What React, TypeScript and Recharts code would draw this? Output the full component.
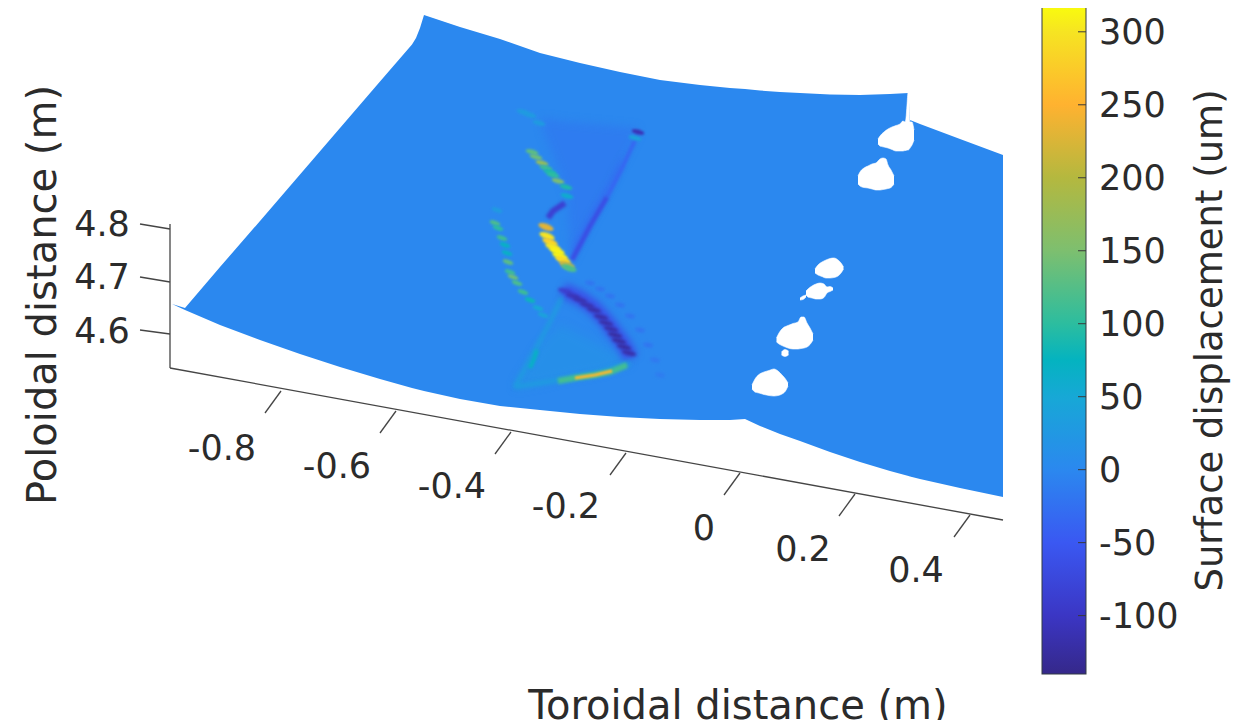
import React from 'react';
import { ComposedChart, BarChart, Bar, Area, Line, Scatter, XAxis, YAxis, Label } from 'recharts';

const FONT = '"DejaVu Sans", sans-serif';
const INK = '#2b2b2b';

// colour scale of the bar: displacement (um) -> colour
const scaleValues = [-140, -100, -50, 0, 50, 75, 100, 150, 200, 250, 300, 317];
const scaleColors = ['#35288a', '#3b36c4', '#3a58f2', '#2b88ef', '#17a8d6', '#04b3c0', '#2cbd9f', '#7dbf6f', '#b4b83f', '#ffb230', '#f6e422', '#f9fb0e'];
const colourTicks = [-100, -50, 0, 50, 100, 150, 200, 250, 300];
const colourRange = [{ name: 'scale', range: [-140, 317] }];

function hex(c: string) { return [1, 3, 5].map((i) => parseInt(c.slice(i, i + 2), 16)); }
function parula(v: number) {
  for (let i = 1; i < scaleValues.length; i++) {
    if (v <= scaleValues[i]) {
      const t = Math.max(0, (v - scaleValues[i - 1]) / (scaleValues[i] - scaleValues[i - 1]));
      const a = hex(scaleColors[i - 1]); const b = hex(scaleColors[i]);
      return `rgb(${a.map((q, k) => Math.round(q + (b[k] - q) * t)).join(',')})`;
    }
  }
  return scaleColors[scaleColors.length - 1];
}

// surface outline in the projected plane: [x, far edge, near edge]
const surfaceEdge = [
  [172, 304, 304], [185, 308, 310], [220, 267, 325], [260, 221, 340], [300, 174.5, 354], [340, 128, 367],
  [380, 81.6, 379], [412, 44.5, 388], [416, 38, 389], [420, 28, 390], [424, 15, 391], [460, 27, 399], [500, 39, 406],
  [540, 53, 410], [580, 63, 414], [620, 72, 417], [660, 80, 419], [700, 85, 420], [730, 88, 420], [745, 89, 419],
  [760, 90.5, 426], [780, 92, 434], [800, 93, 441], [830, 94.5, 452], [860, 95, 462], [890, 94, 471], [908.5, 93, 476],
  [910, 120, 476.5], [920, 124, 479], [960, 139, 488], [1003, 155, 497],
];

// holes in the surface (tile gaps)
const holeA = [[878, 139, 144], [880, 136, 146], [884, 132, 147], [888, 129, 148], [892, 127, 149.5], [896, 125.5, 151], [900, 124, 151], [903, 121, 151], [905, 122, 150.5], [906, 118, 150.5], [907, 105, 150], [908, 93, 150], [909, 93, 149.5], [910, 122, 148], [912, 122, 145], [914, 130, 140]];
const holeB = [[858, 176, 184], [860, 172, 186], [864, 168, 187.5], [868, 166, 188], [872, 164, 189], [876, 163, 190], [880, 159, 190], [883, 158, 189.5], [886, 159, 189], [888, 165, 188.5], [891, 170, 187.5], [894, 176, 184]];
const holeC = [[815, 269, 273], [818, 265, 275], [822, 262, 276.5], [826, 260, 278], [830, 258.5, 278], [834, 258, 277.5], [838, 260, 276], [841, 263, 273], [843.5, 267, 269]];
const holeD = [[806, 291, 295], [808, 289, 297], [812, 286, 298], [816, 284, 299], [820, 283, 299], [824, 284, 297.5], [827, 287, 293], [830, 286.5, 291.5], [833, 288, 290]];
const holeE = [[800, 298, 300], [803, 296, 299.5], [806, 295, 297]];
const holeF = [[776.5, 338, 342], [779, 333, 344], [783, 328, 346], [788, 325.5, 348], [793, 323.5, 349], [798, 322, 349], [801, 317, 348.5], [804, 317, 348], [807, 323, 347], [810, 328, 344.5], [813, 334, 340]];
const holeG = [[781.5, 352, 355], [785, 349.5, 356.5], [788.5, 351, 355]];
const holeH = [[752, 385, 389], [755, 379, 392], [759, 374.5, 393], [764, 372, 394.5], [769, 370.5, 395.5], [774, 369, 396], [778, 371, 395.5], [782, 375, 394], [785.5, 379, 391], [788, 383, 386]];

// displaced zones
const fanUpper = [[543, 118, 130], [555, 120, 160], [567, 122, 195], [571, 122, 262], [637, 128, 135]];
const fanLower = [[515, 386, 388], [540, 345, 384], [560, 325, 379], [600, 345, 372], [630, 362, 364]];
const wedgeStreak = [[572, 246, 260], [590, 212, 226], [607, 183, 197], [622, 154, 168]];
const streakMain = [[572, 260], [590, 226], [607, 197]];
const streakFaint = [[607, 197], [622, 168], [636, 138]];
const streakKink = [[548, 218], [553, 211], [565, 203]];
const ridgeLower = [[563, 290], [580, 298], [594, 308], [606, 321], [615, 333], [624, 345], [631, 358]];
const edgeLeft = [[515, 387], [535, 350], [550, 322], [562, 297]];
const edgeBase = [[515, 387], [560, 380], [600, 372], [630, 363]];
const innerTeal = [[530, 368], [534, 359], [537, 350]];
const glowOuter = [[558, 381], [580, 377], [595, 375], [610, 372], [627, 365]];
const glowInner = [[575, 378], [595, 375], [612, 371]];

// spots: [x, y, displacement]
const spotsTop = [[523, 112, 30], [530, 115, 30], [539, 123, 30], [532, 152, 130], [536, 157, 140], [542, 163, 170], [546, 168, 110], [550, 172, 90], [553, 175, 100], [558, 181, 150], [566, 187, 90], [567, 196, 60], [635, 138, 40], [638, 132, -110]];
const spotsBright = [[546, 227, 230], [547, 236, 300], [550, 242, 280], [553, 247, 300], [557, 251, 310], [560, 256, 310], [563, 260, 290], [567, 265, 220], [569, 268, 120]];
const spotsLeft = [[497, 210, 30], [495, 223, 120], [498, 228, 100], [502, 238, 110], [505, 245, 70], [507, 253, 70], [508, 262, 130], [510, 272, 110], [513, 277, 140], [517, 283, 120], [523, 292, 110], [530, 300, 80], [538, 308, 50], [543, 315, 40]];
const spotsDark = [[565, 291, -90], [573, 296, -110], [580, 300, -115], [587, 305, -115], [594, 310, -120], [601, 317, -120], [606, 323, -120], [611, 329, -120], [615, 335, -125], [619, 341, -125], [624, 347, -125], [629, 353, -120]];
const spotsFaint = [[590, 283, -20], [600, 289, -20], [610, 296, -20], [620, 305, -20], [630, 316, -20], [640, 330, -20], [648, 345, -20], [655, 360, -16], [660, 375, -12]];

// box axes of the 3D view
const floorAxis = [[170, 368], [1003, 520]];
const heightAxis = [[170, 224], [170, 368]];
const toroidalTickFeet = [[281, 391], [396, 411], [511, 432], [626, 453], [740, 473], [855, 494], [970, 515]];
const toroidalTickEnds = [[265, 413], [380, 433], [495, 454], [610, 475], [724, 495], [839, 516], [954, 537]];
const poloidalTickFeet = [[170, 229], [170, 282], [170, 334]];
const poloidalTickEnds = [[140, 224], [140, 277], [140, 330]];
const toroidalLabels: [number, number, string][] = [[222, 448, '-0.8'], [337, 466, '-0.6'], [452, 486, '-0.4'], [566, 506, '-0.2'], [704, 528, '0'], [803, 549, '0.2'], [916, 570, '0.4']];
const poloidalLabels: [number, number, string][] = [[102, 224, '4.8'], [102, 277, '4.7'], [102, 331, '4.6']];
const axisTitles: [number, number, string, number][] = [[738, 705, 'Toroidal distance (m)', 0], [42, 295, 'Poloidal distance (m)', -90]];

const band = (rows: number[][]) => rows.map(([x, a, b]) => ({ x, band: [a, b] }));
const path = (rows: number[][]) => rows.map(([x, y]) => ({ x, y }));
const spots = (rows: number[][]) => rows.map(([x, y, v]) => ({ x, y, v }));

const holes = [holeA, holeB, holeC, holeD, holeE, holeF, holeG, holeH];
const tickPaths = [
  ...toroidalTickFeet.map((f, i) => [f, toroidalTickEnds[i]]),
  ...poloidalTickFeet.map((f, i) => [f, poloidalTickEnds[i]]),
];
const allLabels = [...toroidalLabels, ...poloidalLabels].map(([x, y, text]) => ({ x, y, text, angle: 0, size: 35 }));
const titleRows = axisTitles.map(([x, y, text, angle]) => ({ x, y, text, angle, size: 40 }));

const TextMark = (p: any) => (
  <text x={p.cx} y={p.cy} dy=".35em" textAnchor="middle" fontFamily={FONT} fontSize={p.payload.size} fill={INK}
    transform={p.payload.angle ? `rotate(${p.payload.angle} ${p.cx} ${p.cy})` : undefined}>{p.payload.text}</text>
);

const spot = (rx: number, ry: number, rot: number, blur = 1) => (p: any) => (
  <ellipse cx={p.cx} cy={p.cy} rx={rx} ry={ry} fill={parula(p.payload.v)}
    transform={`rotate(${rot} ${p.cx} ${p.cy})`} style={{ filter: `blur(${blur}px)` }} />
);

const ColourTick = (p: any) => (
  <g>
    <line x1={p.x - 8} x2={p.x} y1={p.y} y2={p.y} stroke="#3a3a3a" strokeWidth={1} />
    <text x={p.x + 13} y={p.y} dy=".36em" fontFamily={FONT} fontSize={35} fill={INK}>{p.payload.value}</text>
  </g>
);

const ColourBody = (p: any) => (
  <rect x={p.x} y={p.y} width={p.width} height={p.height} fill="url(#parulaBar)" stroke="#333a44" strokeWidth={1} />
);

export default function App() {
  const flow = { isAnimationActive: false, dot: false, activeDot: false, legendType: 'none' as const };
  return (
    <div style={{ position: 'relative', width: 1239, height: 728, margin: -8, background: '#fff', overflow: 'hidden' }}>
      <div style={{ position: 'absolute', left: 0, top: 0 }}>
        <ComposedChart width={1239} height={728} margin={{ top: 0, right: 0, bottom: 0, left: 0 }}>
          <XAxis type="number" dataKey="x" domain={[0, 1239]} hide />
          <YAxis type="number" domain={[0, 728]} reversed hide />

          {[floorAxis, heightAxis, ...tickPaths].map((r, i) => (
            <Line key={`ax${i}`} data={path(r)} dataKey="y" stroke="#454545" strokeWidth={1.3} {...flow} />
          ))}

          <Area data={band(surfaceEdge)} dataKey="band" type="linear" fill="#2b88ef" fillOpacity={1} stroke="none" {...flow} />
          {holes.map((h, i) => (
            <Area key={`h${i}`} data={band(h)} dataKey="band" type="monotone" fill="#ffffff" fillOpacity={1} stroke="#ffffff" strokeWidth={0.6} {...flow} />
          ))}

          <Area data={band(fanUpper)} dataKey="band" type="linear" fill={parula(-18)} fillOpacity={0.65} stroke="none" style={{ filter: 'blur(4px)' }} {...flow} />
          <Area data={band(fanLower)} dataKey="band" type="linear" fill={parula(25)} fillOpacity={0.45} stroke="none" style={{ filter: 'blur(5px)' }} {...flow} />
          <Area data={band(wedgeStreak)} dataKey="band" type="linear" fill={parula(-30)} fillOpacity={0.6} stroke="none" style={{ filter: 'blur(2.5px)' }} {...flow} />

          <Line data={path(streakFaint)} dataKey="y" stroke={parula(-35)} strokeWidth={4} style={{ filter: 'blur(1.6px)' }} {...flow} />
          <Line data={path(streakMain)} dataKey="y" stroke={parula(-65)} strokeWidth={5} style={{ filter: 'blur(1.6px)' }} {...flow} />
          <Line data={path(streakKink)} dataKey="y" stroke={parula(-85)} strokeWidth={6} style={{ filter: 'blur(1.8px)' }} {...flow} />
          <Line data={path(ridgeLower)} dataKey="y" stroke={parula(-62)} strokeWidth={15} style={{ filter: 'blur(3.5px)' }} {...flow} />
          <Line data={path(edgeLeft)} dataKey="y" stroke={parula(40)} strokeWidth={3} style={{ filter: 'blur(2px)' }} {...flow} />
          <Line data={path(edgeBase)} dataKey="y" stroke={parula(42)} strokeWidth={3} style={{ filter: 'blur(2px)' }} {...flow} />
          <Line data={path(innerTeal)} dataKey="y" stroke={parula(72)} strokeWidth={4} style={{ filter: 'blur(1.6px)' }} {...flow} />
          <Line data={path(glowOuter)} dataKey="y" stroke={parula(115)} strokeWidth={6} style={{ filter: 'blur(1.5px)' }} {...flow} />
          <Line data={path(glowInner)} dataKey="y" stroke={parula(255)} strokeWidth={3.2} style={{ filter: 'blur(1px)' }} {...flow} />

          <Scatter data={spots(spotsFaint)} dataKey="y" isAnimationActive={false} legendType="none" shape={spot(5, 2.4, 10, 1.5) as any} />
          <Scatter data={spots(spotsTop)} dataKey="y" isAnimationActive={false} legendType="none" shape={spot(6.5, 2.6, 15) as any} />
          <Scatter data={spots(spotsLeft)} dataKey="y" isAnimationActive={false} legendType="none" shape={spot(5.5, 2.3, 20) as any} />
          <Scatter data={spots(spotsBright)} dataKey="y" isAnimationActive={false} legendType="none" shape={spot(8, 3.2, 20) as any} />
          <Scatter data={spots(spotsDark)} dataKey="y" isAnimationActive={false} legendType="none" shape={spot(7.5, 2.6, 15, 1.6) as any} />

          <Scatter data={allLabels} dataKey="y" isAnimationActive={false} legendType="none" shape={TextMark as any} />
          <Scatter data={titleRows} dataKey="y" isAnimationActive={false} legendType="none" shape={TextMark as any} />
        </ComposedChart>
      </div>

      <div style={{ position: 'absolute', left: 1040, top: 5 }}>
        <BarChart width={199} height={671} data={colourRange} barCategoryGap={0} margin={{ top: 2, right: 0, bottom: 2, left: 2 }}>
          <defs>
            <linearGradient id="parulaBar" x1="0" y1="1" x2="0" y2="0">
              {scaleValues.map((v, i) => (
                <stop key={v} offset={(v - scaleValues[0]) / (scaleValues[scaleValues.length - 1] - scaleValues[0])} stopColor={scaleColors[i]} />
              ))}
            </linearGradient>
          </defs>
          <XAxis dataKey="name" hide />
          <YAxis orientation="right" width={153} type="number" domain={[-140, 317]} ticks={colourTicks} interval={0}
            axisLine={false} tickLine={false} tickSize={0} tickMargin={0} tick={ColourTick as any}>
            <Label value="Surface displacement (um)" angle={-90} position="insideRight" offset={30}
              style={{ fontFamily: FONT, fontSize: 37, fill: INK, textAnchor: 'middle' }} />
          </YAxis>
          <Bar dataKey="range" shape={ColourBody as any} isAnimationActive={false} legendType="none" />
        </BarChart>
      </div>
    </div>
  );
}
